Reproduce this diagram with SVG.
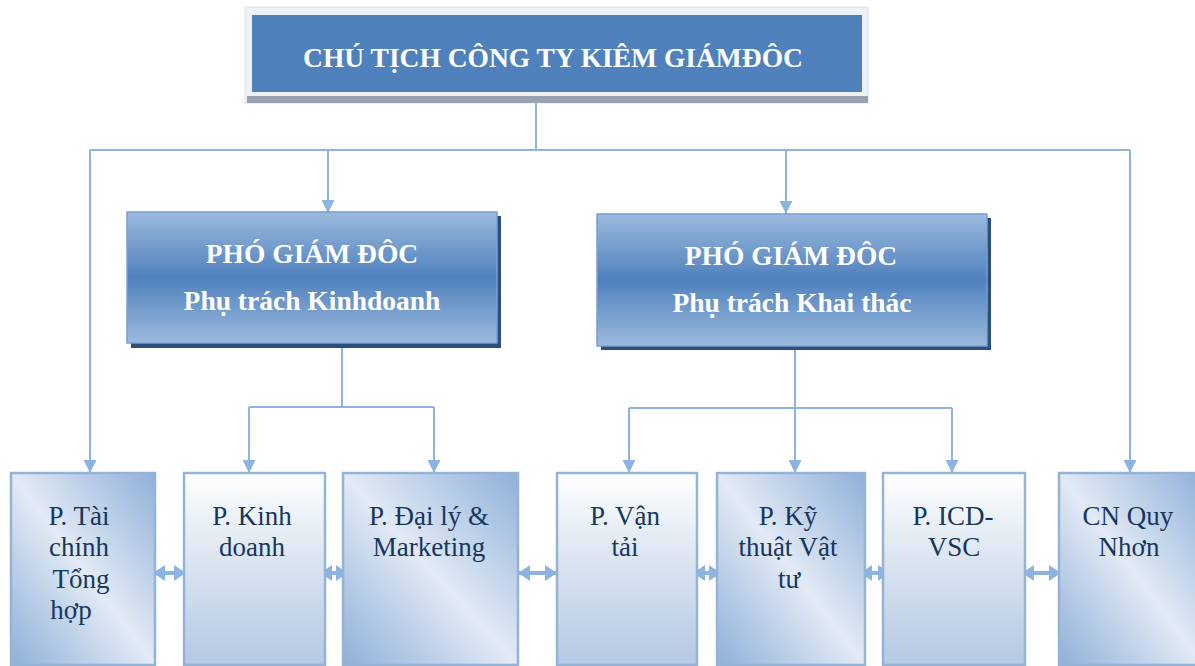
<svg xmlns="http://www.w3.org/2000/svg" width="1195" height="666" viewBox="0 0 1195 666">
<defs>
<linearGradient id="gPgd" x1="0" y1="0" x2="0" y2="1">
<stop offset="0" stop-color="#9dbade"/>
<stop offset="0.5" stop-color="#4f81bd"/>
<stop offset="1" stop-color="#9dbade"/>
</linearGradient>
<linearGradient id="gVert" x1="0" y1="0" x2="0" y2="1">
<stop offset="0" stop-color="#ffffff"/>
<stop offset="0.45" stop-color="#dbe5f1"/>
<stop offset="1" stop-color="#b4c9e4"/>
</linearGradient>
<linearGradient id="gDiag" x1="1" y1="0" x2="0" y2="1">
<stop offset="0" stop-color="#8fb0d9"/>
<stop offset="0.5" stop-color="#e2eaf5"/>
<stop offset="1" stop-color="#8fb0d9"/>
</linearGradient>
<marker id="ah" viewBox="0 0 12 12" refX="12" refY="6" markerWidth="13" markerHeight="13" markerUnits="userSpaceOnUse" orient="auto">
<path d="M0 0 L12 6 L0 12 Z" fill="#8db3e2"/>
</marker>
<marker id="bh" viewBox="0 0 12 16" refX="12" refY="8" markerWidth="12" markerHeight="16" markerUnits="userSpaceOnUse" orient="auto-start-reverse">
<path d="M0 0 L12 8 L0 16 Z" fill="#8db3e2"/>
</marker>
</defs>
<rect width="1195" height="666" fill="#ffffff"/>

<g id="connectors" fill="none" stroke="#8db3e2" stroke-width="2">
<path d="M536 103 V150"/>
<path d="M90 150 H1130"/>
<path d="M90 150 V473" marker-end="url(#ah)"/>
<path d="M328 150 V213" marker-end="url(#ah)"/>
<path d="M786 150 V214" marker-end="url(#ah)"/>
<path d="M1130 150 V473" marker-end="url(#ah)"/>
<path d="M342 348 V407"/>
<path d="M249 407 H434"/>
<path d="M249 407 V473" marker-end="url(#ah)"/>
<path d="M434 407 V473" marker-end="url(#ah)"/>
<path d="M795 350 V473" marker-end="url(#ah)"/>
<path d="M629 408 H952"/>
<path d="M629 408 V473" marker-end="url(#ah)"/>
<path d="M952 408 V473" marker-end="url(#ah)"/>
<g stroke-width="4">
<path d="M153 573 H186" marker-start="url(#bh)" marker-end="url(#bh)"/>
<path d="M320 573 H348" marker-start="url(#bh)" marker-end="url(#bh)"/>
<path d="M518 573 H557" marker-start="url(#bh)" marker-end="url(#bh)"/>
<path d="M693 573 H721" marker-start="url(#bh)" marker-end="url(#bh)"/>
<path d="M860 573 H890" marker-start="url(#bh)" marker-end="url(#bh)"/>
<path d="M1022 573 H1061" marker-start="url(#bh)" marker-end="url(#bh)"/>
</g>
</g>

<g id="chutich">
<rect x="245" y="7" width="623" height="96" fill="#eef1f5" stroke="#dde2e8" stroke-width="1"/>
<rect x="247" y="96" width="621" height="7" fill="#98a2b0"/>
<rect x="252" y="15" width="610" height="77" fill="#4f81bd"/>
<text font-family="Liberation Serif" font-weight="bold" font-size="27.5" fill="#ffffff" text-anchor="middle" x="553" y="67">CHÚ TỊCH CÔNG TY KIÊM GIÁMĐÔC</text>
</g>

<g id="pgd-kinhdoanh" font-family="Liberation Serif" font-weight="bold" font-size="27.5" text-anchor="middle">
<rect x="131" y="216" width="370" height="132" fill="#2c4f7c"/>
<rect x="127" y="212" width="370" height="131" fill="url(#gPgd)" stroke="#7aa0cf" stroke-width="1.5"/>
<text fill="#ffffff" x="312" y="263">PHÓ GIÁM ĐÔC</text>
<text fill="#ffffff" x="312" y="310">Phụ trách Kinhdoanh</text>
</g>

<g id="pgd-khaithac" font-family="Liberation Serif" font-weight="bold" font-size="27.5" text-anchor="middle">
<rect x="601" y="218" width="390" height="132" fill="#2c4f7c"/>
<rect x="597" y="214" width="390" height="132" fill="url(#gPgd)" stroke="#7aa0cf" stroke-width="1.5"/>
<text fill="#ffffff" x="791" y="265">PHÓ GIÁM ĐÔC</text>
<text fill="#ffffff" x="792" y="312">Phụ trách Khai thác</text>
</g>

<g id="depts" font-family="Liberation Serif" font-size="27" fill="#17375e" text-anchor="middle" stroke-width="2.5">
<g id="p-taichinh">
<rect x="11" y="473" width="144" height="192" fill="url(#gDiag)" stroke="#95b3d7"/>
<text><tspan x="79" y="525">P. Tài</tspan><tspan x="79" y="556">chính</tspan><tspan x="81" y="588">Tổng</tspan><tspan x="71" y="619">hợp</tspan></text>
</g>
<g id="p-kinhdoanh">
<rect x="184" y="473" width="141" height="192" fill="url(#gVert)" stroke="#95b3d7"/>
<text><tspan x="252" y="525">P. Kinh</tspan><tspan x="252" y="556">doanh</tspan></text>
</g>
<g id="p-daily">
<rect x="343" y="473" width="175" height="192" fill="url(#gDiag)" stroke="#95b3d7"/>
<text><tspan x="429" y="525">P. Đại lý &amp;</tspan><tspan x="429" y="556">Marketing</tspan></text>
</g>
<g id="p-vantai">
<rect x="557" y="473" width="140" height="192" fill="url(#gVert)" stroke="#95b3d7"/>
<text><tspan x="625" y="525">P. Vận</tspan><tspan x="625" y="556">tải</tspan></text>
</g>
<g id="p-kythuat">
<rect x="717" y="473" width="148" height="192" fill="url(#gDiag)" stroke="#95b3d7"/>
<text><tspan x="788" y="525">P. Kỹ</tspan><tspan x="788" y="556">thuật Vật</tspan><tspan x="789" y="588">tư</tspan></text>
</g>
<g id="p-icd">
<rect x="883" y="473" width="142" height="192" fill="url(#gVert)" stroke="#95b3d7"/>
<text><tspan x="953" y="525">P. ICD-</tspan><tspan x="954" y="556">VSC</tspan></text>
</g>
<g id="cn-quynhon">
<rect x="1059" y="473" width="145" height="192" fill="url(#gDiag)" stroke="#95b3d7"/>
<text><tspan x="1128" y="525">CN Quy</tspan><tspan x="1129" y="556">Nhơn</tspan></text>
</g>
</g>
</svg>
